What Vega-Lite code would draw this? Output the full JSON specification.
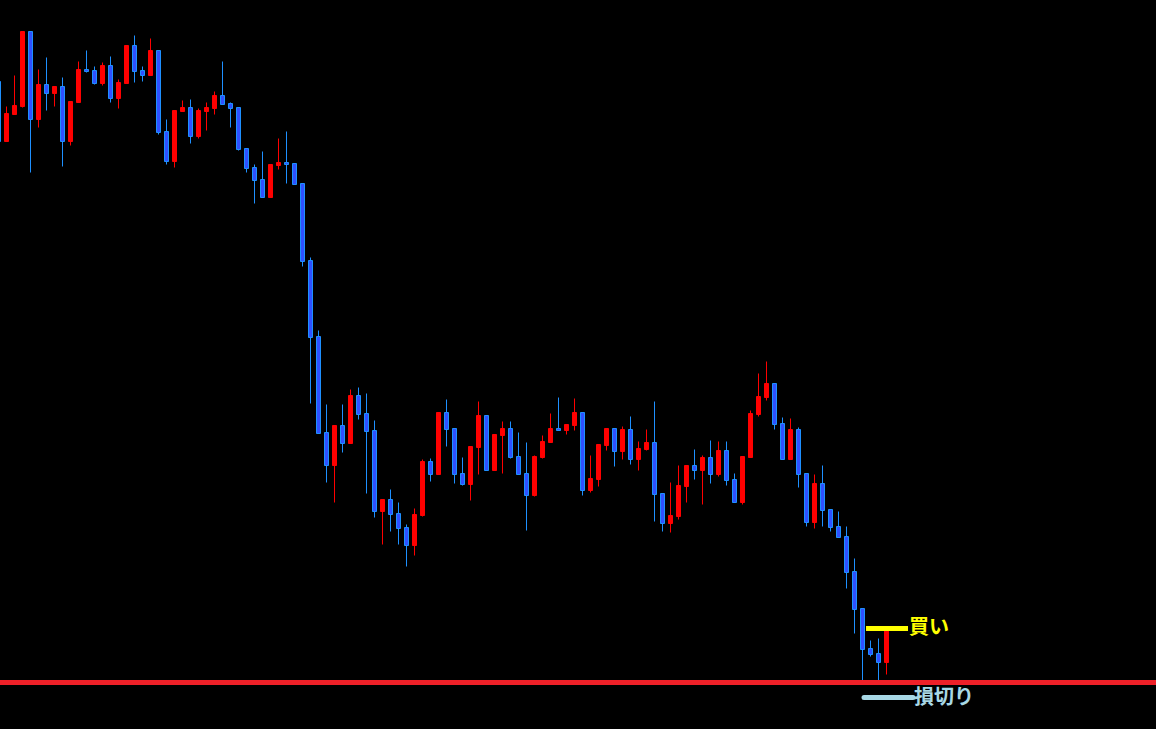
{
  "$schema": "https://vega.github.io/schema/vega-lite/v6.json",
  "width": 1156,
  "height": 729,
  "autosize": {"type": "none"},
  "padding": 0,
  "background": "#000000",
  "config": {"view": {"stroke": null}},
  "datasets": {
    "candles": [
      {"i":-1,"o":116.015,"h":116.015,"l":115.415,"c":115.415},
      {"i":0,"o":115.415,"h":115.765,"l":115.415,"c":115.695},
      {"i":1,"o":115.685,"h":116.075,"l":115.685,"c":115.775},
      {"i":2,"o":115.765,"h":116.515,"l":115.755,"c":116.515},
      {"i":3,"o":116.515,"h":116.515,"l":115.105,"c":115.635},
      {"i":4,"o":115.635,"h":116.135,"l":115.555,"c":115.985},
      {"i":5,"o":115.985,"h":116.255,"l":115.725,"c":115.895},
      {"i":6,"o":115.895,"h":115.965,"l":115.765,"c":115.965},
      {"i":7,"o":115.965,"h":116.055,"l":115.165,"c":115.415},
      {"i":8,"o":115.415,"h":115.815,"l":115.375,"c":115.815},
      {"i":9,"o":115.805,"h":116.215,"l":115.805,"c":116.135},
      {"i":10,"o":116.135,"h":116.325,"l":116.105,"c":116.115},
      {"i":11,"o":116.125,"h":116.165,"l":115.985,"c":115.995},
      {"i":12,"o":115.995,"h":116.205,"l":115.975,"c":116.175},
      {"i":13,"o":116.175,"h":116.265,"l":115.805,"c":115.845},
      {"i":14,"o":115.845,"h":116.035,"l":115.745,"c":116.005},
      {"i":15,"o":115.995,"h":116.375,"l":115.995,"c":116.375},
      {"i":16,"o":116.375,"h":116.475,"l":116.005,"c":116.115},
      {"i":17,"o":116.125,"h":116.165,"l":116.015,"c":116.075},
      {"i":18,"o":116.075,"h":116.445,"l":116.075,"c":116.325},
      {"i":19,"o":116.325,"h":116.325,"l":115.485,"c":115.505},
      {"i":20,"o":115.515,"h":115.635,"l":115.185,"c":115.215},
      {"i":21,"o":115.215,"h":115.725,"l":115.155,"c":115.725},
      {"i":22,"o":115.715,"h":115.825,"l":115.715,"c":115.755},
      {"i":23,"o":115.755,"h":115.835,"l":115.395,"c":115.465},
      {"i":24,"o":115.465,"h":115.745,"l":115.445,"c":115.725},
      {"i":25,"o":115.715,"h":115.805,"l":115.525,"c":115.755},
      {"i":26,"o":115.745,"h":115.915,"l":115.685,"c":115.875},
      {"i":27,"o":115.875,"h":116.215,"l":115.785,"c":115.785},
      {"i":28,"o":115.795,"h":115.805,"l":115.555,"c":115.745},
      {"i":29,"o":115.755,"h":115.755,"l":115.325,"c":115.335},
      {"i":30,"o":115.345,"h":115.345,"l":115.105,"c":115.145},
      {"i":31,"o":115.155,"h":115.185,"l":114.795,"c":115.025},
      {"i":32,"o":115.035,"h":115.315,"l":114.855,"c":114.855},
      {"i":33,"o":114.855,"h":115.185,"l":114.855,"c":115.185},
      {"i":34,"o":115.175,"h":115.445,"l":115.135,"c":115.205},
      {"i":35,"o":115.205,"h":115.515,"l":114.995,"c":115.185},
      {"i":36,"o":115.195,"h":115.195,"l":114.985,"c":114.985},
      {"i":37,"o":114.995,"h":114.995,"l":114.165,"c":114.215},
      {"i":38,"o":114.225,"h":114.255,"l":112.795,"c":113.455},
      {"i":39,"o":113.465,"h":113.525,"l":112.495,"c":112.495},
      {"i":40,"o":112.505,"h":112.785,"l":112.005,"c":112.175},
      {"i":41,"o":112.175,"h":112.575,"l":111.805,"c":112.575},
      {"i":42,"o":112.575,"h":112.785,"l":112.305,"c":112.395},
      {"i":43,"o":112.395,"h":112.935,"l":112.395,"c":112.875},
      {"i":44,"o":112.875,"h":112.955,"l":112.635,"c":112.685},
      {"i":45,"o":112.695,"h":112.895,"l":111.895,"c":112.515},
      {"i":46,"o":112.525,"h":112.625,"l":111.655,"c":111.715},
      {"i":47,"o":111.715,"h":111.835,"l":111.385,"c":111.835},
      {"i":48,"o":111.835,"h":111.935,"l":111.515,"c":111.685},
      {"i":49,"o":111.695,"h":111.805,"l":111.385,"c":111.545},
      {"i":50,"o":111.555,"h":111.585,"l":111.165,"c":111.375},
      {"i":51,"o":111.375,"h":111.745,"l":111.275,"c":111.685},
      {"i":52,"o":111.675,"h":112.235,"l":111.665,"c":112.215},
      {"i":53,"o":112.215,"h":112.245,"l":112.015,"c":112.085},
      {"i":54,"o":112.085,"h":112.705,"l":112.085,"c":112.705},
      {"i":55,"o":112.705,"h":112.835,"l":112.365,"c":112.535},
      {"i":56,"o":112.545,"h":112.545,"l":111.995,"c":112.085},
      {"i":57,"o":112.095,"h":112.255,"l":111.975,"c":111.985},
      {"i":58,"o":111.985,"h":112.365,"l":111.825,"c":112.365},
      {"i":59,"o":112.355,"h":112.815,"l":112.085,"c":112.675},
      {"i":60,"o":112.675,"h":112.675,"l":112.125,"c":112.125},
      {"i":61,"o":112.125,"h":112.485,"l":112.125,"c":112.485},
      {"i":62,"o":112.475,"h":112.615,"l":112.095,"c":112.545},
      {"i":63,"o":112.545,"h":112.615,"l":112.245,"c":112.255},
      {"i":64,"o":112.265,"h":112.505,"l":112.085,"c":112.085},
      {"i":65,"o":112.095,"h":112.405,"l":111.525,"c":111.875},
      {"i":66,"o":111.875,"h":112.275,"l":111.865,"c":112.265},
      {"i":67,"o":112.255,"h":112.475,"l":112.245,"c":112.415},
      {"i":68,"o":112.405,"h":112.695,"l":112.405,"c":112.545},
      {"i":69,"o":112.545,"h":112.855,"l":112.525,"c":112.525},
      {"i":70,"o":112.525,"h":112.585,"l":112.485,"c":112.585},
      {"i":71,"o":112.575,"h":112.845,"l":112.525,"c":112.705},
      {"i":72,"o":112.705,"h":112.705,"l":111.875,"c":111.925},
      {"i":73,"o":111.925,"h":112.275,"l":111.905,"c":112.045},
      {"i":74,"o":112.035,"h":112.385,"l":111.965,"c":112.385},
      {"i":75,"o":112.375,"h":112.545,"l":112.325,"c":112.545},
      {"i":76,"o":112.545,"h":112.545,"l":112.165,"c":112.315},
      {"i":77,"o":112.315,"h":112.565,"l":112.235,"c":112.535},
      {"i":78,"o":112.535,"h":112.665,"l":112.185,"c":112.235},
      {"i":79,"o":112.235,"h":112.415,"l":112.125,"c":112.345},
      {"i":80,"o":112.335,"h":112.535,"l":112.325,"c":112.405},
      {"i":81,"o":112.405,"h":112.815,"l":111.615,"c":111.885},
      {"i":82,"o":111.895,"h":111.895,"l":111.515,"c":111.595},
      {"i":83,"o":111.595,"h":112.005,"l":111.505,"c":111.675},
      {"i":84,"o":111.665,"h":112.175,"l":111.635,"c":111.975},
      {"i":85,"o":111.965,"h":112.175,"l":111.805,"c":112.175},
      {"i":86,"o":112.175,"h":112.335,"l":112.035,"c":112.125},
      {"i":87,"o":112.125,"h":112.275,"l":111.785,"c":112.255},
      {"i":88,"o":112.255,"h":112.425,"l":111.995,"c":112.085},
      {"i":89,"o":112.085,"h":112.415,"l":112.065,"c":112.325},
      {"i":90,"o":112.325,"h":112.415,"l":111.975,"c":112.025},
      {"i":91,"o":112.035,"h":112.095,"l":111.805,"c":111.805},
      {"i":92,"o":111.805,"h":112.265,"l":111.785,"c":112.265},
      {"i":93,"o":112.255,"h":112.725,"l":112.255,"c":112.695},
      {"i":94,"o":112.685,"h":113.095,"l":112.665,"c":112.865},
      {"i":95,"o":112.855,"h":113.215,"l":112.825,"c":112.995},
      {"i":96,"o":112.995,"h":112.995,"l":112.535,"c":112.585},
      {"i":97,"o":112.595,"h":112.655,"l":112.235,"c":112.235},
      {"i":98,"o":112.235,"h":112.645,"l":112.235,"c":112.535},
      {"i":99,"o":112.535,"h":112.555,"l":111.955,"c":112.085},
      {"i":100,"o":112.095,"h":112.095,"l":111.565,"c":111.605},
      {"i":101,"o":111.605,"h":112.085,"l":111.545,"c":111.995},
      {"i":102,"o":111.995,"h":112.175,"l":111.565,"c":111.725},
      {"i":103,"o":111.735,"h":111.735,"l":111.515,"c":111.555},
      {"i":104,"o":111.565,"h":111.715,"l":111.455,"c":111.455},
      {"i":105,"o":111.465,"h":111.565,"l":110.945,"c":111.105},
      {"i":106,"o":111.115,"h":111.245,"l":110.495,"c":110.735},
      {"i":107,"o":110.745,"h":110.745,"l":110.005,"c":110.335},
      {"i":108,"o":110.345,"h":110.425,"l":110.265,"c":110.285},
      {"i":109,"o":110.295,"h":110.445,"l":110.005,"c":110.205},
      {"i":110,"o":110.205,"h":110.525,"l":110.085,"c":110.525}
    ]
  },
  "layer": [
    {
      "data": {"name": "candles"},
      "mark": {"type": "rule", "strokeWidth": 1, "clip": true},
      "encoding": {
        "x": {"field": "i", "type": "quantitative", "scale": {"domain": [-0.8125, 143.6875], "nice": false, "zero": false, "padding": 0}, "axis": null},
        "y": {"field": "l", "type": "quantitative", "scale": {"domain": [109.54, 116.83], "nice": false, "zero": false, "padding": 0}, "axis": null},
        "y2": {"field": "h"},
        "color": {"condition": {"test": "datum.c < datum.o", "value": "#1e90ff"}, "value": "#ff0000"}
      }
    },
    {
      "data": {"name": "candles"},
      "mark": {"type": "bar", "size": 4, "strokeWidth": 1, "clip": true},
      "encoding": {
        "x": {"field": "i", "type": "quantitative", "scale": {"domain": [-0.8125, 143.6875], "nice": false, "zero": false, "padding": 0}, "axis": null},
        "y": {"field": "o", "type": "quantitative", "scale": {"domain": [109.54, 116.83], "nice": false, "zero": false, "padding": 0}, "axis": null},
        "y2": {"field": "c"},
        "fill": {"condition": {"test": "datum.c < datum.o", "value": "#2f50ff"}, "value": "#ff0000"},
        "stroke": {"condition": {"test": "datum.c < datum.o", "value": "#1e90ff"}, "value": "#ff0000"}
      }
    },
    {
      "data": {"values": [{"price": 110.005}]},
      "mark": {"type": "rule", "strokeWidth": 5, "color": "#ee2028"},
      "encoding": {
        "y": {"field": "price", "type": "quantitative", "scale": {"domain": [109.54, 116.83], "nice": false, "zero": false, "padding": 0}, "axis": null}
      }
    },
    {
      "data": {"values": [{"x1": 107.44, "x2": 112.69, "price": 110.545}]},
      "mark": {"type": "rule", "strokeWidth": 5, "color": "#ffff00"},
      "encoding": {
        "x": {"field": "x1", "type": "quantitative", "scale": {"domain": [-0.8125, 143.6875], "nice": false, "zero": false, "padding": 0}, "axis": null},
        "x2": {"field": "x2"},
        "y": {"field": "price", "type": "quantitative", "scale": {"domain": [109.54, 116.83], "nice": false, "zero": false, "padding": 0}, "axis": null}
      }
    },
    {
      "data": {"values": [{"x1": 107.19, "x2": 113.31, "price": 109.855}]},
      "mark": {"type": "rule", "strokeWidth": 5, "color": "#a8d8e6", "strokeCap": "round"},
      "encoding": {
        "x": {"field": "x1", "type": "quantitative", "scale": {"domain": [-0.8125, 143.6875], "nice": false, "zero": false, "padding": 0}, "axis": null},
        "x2": {"field": "x2"},
        "y": {"field": "price", "type": "quantitative", "scale": {"domain": [109.54, 116.83], "nice": false, "zero": false, "padding": 0}, "axis": null}
      }
    },
    {
      "data": {"values": [{"x": 112.81, "price": 110.555, "label": "買い"}]},
      "mark": {"type": "text", "align": "left", "baseline": "middle", "font": "Noto Sans CJK JP", "fontWeight": "bold", "fontSize": 20, "color": "#ffff00"},
      "encoding": {
        "x": {"field": "x", "type": "quantitative", "scale": {"domain": [-0.8125, 143.6875], "nice": false, "zero": false, "padding": 0}, "axis": null},
        "y": {"field": "price", "type": "quantitative", "scale": {"domain": [109.54, 116.83], "nice": false, "zero": false, "padding": 0}, "axis": null},
        "text": {"field": "label"}
      }
    },
    {
      "data": {"values": [{"x": 113.44, "price": 109.855, "label": "損切り"}]},
      "mark": {"type": "text", "align": "left", "baseline": "middle", "font": "Noto Sans CJK JP", "fontWeight": "bold", "fontSize": 20, "color": "#a8d8e6"},
      "encoding": {
        "x": {"field": "x", "type": "quantitative", "scale": {"domain": [-0.8125, 143.6875], "nice": false, "zero": false, "padding": 0}, "axis": null},
        "y": {"field": "price", "type": "quantitative", "scale": {"domain": [109.54, 116.83], "nice": false, "zero": false, "padding": 0}, "axis": null},
        "text": {"field": "label"}
      }
    }
  ]
}
